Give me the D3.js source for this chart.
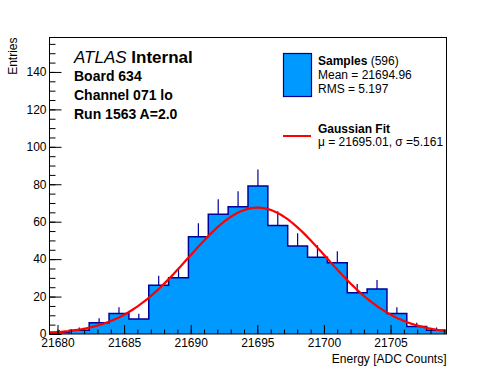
<!DOCTYPE html>
<html lang="en">
<head>
  <meta charset="UTF-8" />
  <title>Board 634 Channel 071 lo</title>
  <script src="https://d3js.org/d3.v7.min.js"></script>
  <style>
    body { margin: 0; background: #fff; }
    svg { display: block; font-family: "Liberation Sans", Arial, Helvetica, sans-serif; }
    .axis text { font-size: 12px; fill: #000; }
    .axis path, .axis line { stroke: #000; stroke-width: 1; }
  </style>
</head>
<body>
<svg id="chart" width="496" height="372"></svg>
<script>
// == DATA ==
const binLow = 21679.4;
const binHigh = 21709.2;
const counts = [1, 2, 6, 11, 8, 26, 30, 52, 64, 68, 79, 58, 47, 41, 38, 22, 24, 11, 4, 2];
const xMajorTicks = [21680, 21685, 21690, 21695, 21700, 21705];
const yMajorTicks = [0, 20, 40, 60, 80, 100, 120, 140];
const yMax = 158.4;

const sampleCount = 596;
const sampleMean = "21694.96";
const sampleRms = "5.197";

// gaussian fit parameters (from the legend), amplitude
const fitMu = 21695.01;
const fitSigma = 5.161;
const fitAmp = 67.5;

const headerLines = ["Board 634", "Channel 071 lo", "Run 1563 A=2.0"];

// == LAYOUT ==
const svg = d3.select("#chart");
const frame = { left: 49.5, right: 446.5, top: 37.5, bottom: 334 };
const fillColor = "#0099ff";
const lineColor = "#000099";

const x = d3.scaleLinear().domain([binLow, binHigh]).range([frame.left, frame.right]);
const y = d3.scaleLinear().domain([0, yMax]).range([frame.bottom, frame.top]);

svg.append("clipPath").attr("id", "frame-clip")
  .append("rect")
  .attr("x", frame.left).attr("y", frame.top)
  .attr("width", frame.right - frame.left).attr("height", frame.bottom - frame.top);

const plot = svg.append("g").attr("clip-path", "url(#frame-clip)");

const binWidth = (binHigh - binLow) / counts.length;
const bins = counts.map((c, i) => ({ x0: binLow + i * binWidth, x1: binLow + (i + 1) * binWidth, n: c }));

// step points for the histogram outline
const steps = [];
bins.forEach(b => { steps.push([b.x0, b.n]); steps.push([b.x1, b.n]); });

plot.append("path")
  .datum(steps)
  .attr("fill", fillColor)
  .attr("d", d3.area().x(d => x(d[0])).y0(y(0)).y1(d => y(d[1])));

plot.append("path")
  .datum([[binLow, 0], ...steps, [binHigh, 0]])
  .attr("fill", "none")
  .attr("stroke", lineColor)
  .attr("stroke-width", 1.5)
  .attr("d", d3.line().x(d => x(d[0])).y(d => y(d[1])));

// error bars (upper half shows above the filled bar)
plot.selectAll(".err")
  .data(bins)
  .join("line")
  .attr("class", "err")
  .attr("x1", d => x((d.x0 + d.x1) / 2))
  .attr("x2", d => x((d.x0 + d.x1) / 2))
  .attr("y1", d => y(d.n))
  .attr("y2", d => y(d.n + Math.sqrt(d.n)))
  .attr("stroke", lineColor)
  .attr("stroke-width", 1.2);

// fit curve
const gauss = v => fitAmp * Math.exp(-0.5 * Math.pow((v - fitMu) / fitSigma, 2));
const curveXs = d3.range(200).map(i => binLow + (binHigh - binLow) * i / 199);
plot.append("path")
  .datum(curveXs)
  .attr("fill", "none")
  .attr("stroke", "#ff0000")
  .attr("stroke-width", 2.2)
  .attr("d", d3.line().x(d => x(d)).y(d => y(gauss(d))));

// == AXES ==
const xMinor = d3.range(21680, 21710, 1);
const yMinor = d3.range(0, yMax, 5);

svg.append("g").attr("class", "axis")
  .attr("transform", `translate(0,${frame.bottom})`)
  .call(d3.axisBottom(x).tickValues(xMinor).tickSize(-4.5).tickFormat(""))
  .call(g => g.select(".domain").remove());

svg.append("g").attr("class", "axis")
  .attr("transform", `translate(0,${frame.bottom})`)
  .call(d3.axisBottom(x).tickValues(xMajorTicks).tickSize(-9).tickPadding(4).tickFormat(d3.format("d")))
  .call(g => g.select(".domain").remove());

svg.append("g").attr("class", "axis")
  .attr("transform", `translate(${frame.left},0)`)
  .call(d3.axisLeft(y).tickValues(yMinor).tickSize(-6).tickFormat(""))
  .call(g => g.select(".domain").remove());

svg.append("g").attr("class", "axis")
  .attr("transform", `translate(${frame.left},0)`)
  .call(d3.axisLeft(y).tickValues(yMajorTicks).tickSize(-12).tickPadding(3).tickFormat(d3.format("d")))
  .call(g => g.select(".domain").remove());

svg.append("rect")
  .attr("x", frame.left).attr("y", frame.top)
  .attr("width", frame.right - frame.left).attr("height", frame.bottom - frame.top)
  .attr("fill", "none").attr("stroke", "#000").attr("stroke-width", 1);

svg.append("text")
  .attr("transform", `translate(17,${frame.top}) rotate(-90)`)
  .attr("text-anchor", "end")
  .attr("font-size", 12)
  .text("Entries");

svg.append("text")
  .attr("x", frame.right).attr("y", 363)
  .attr("text-anchor", "end")
  .attr("font-size", 12)
  .text("Energy [ADC Counts]");

// == LABELS ==
const atlas = svg.append("text").attr("x", 74).attr("y", 62.7).attr("font-size", 17);
atlas.append("tspan").attr("font-style", "italic").text("ATLAS");
atlas.append("tspan").attr("font-weight", "bold").text(" Internal");

svg.selectAll(".hdr")
  .data(headerLines)
  .join("text")
  .attr("class", "hdr")
  .attr("x", 74)
  .attr("y", (d, i) => 81 + i * 18.9)
  .attr("font-size", 14)
  .attr("font-weight", "bold")
  .text(d => d);

// == LEGEND ==
const legend = svg.append("g");
legend.append("rect")
  .attr("x", 283.5).attr("y", 53.5).attr("width", 28).attr("height", 43)
  .attr("fill", fillColor).attr("stroke", lineColor).attr("stroke-width", 1.2);

const sTitle = legend.append("text").attr("x", 318).attr("y", 65).attr("font-size", 12);
sTitle.append("tspan").attr("font-weight", "bold").text("Samples");
sTitle.append("tspan").text(` (${sampleCount})`);
legend.append("text").attr("x", 318).attr("y", 79.3).attr("font-size", 12).text(`Mean = ${sampleMean}`);
legend.append("text").attr("x", 318).attr("y", 93.3).attr("font-size", 12).text(`RMS = ${sampleRms}`);

legend.append("line")
  .attr("x1", 283).attr("x2", 311).attr("y1", 136).attr("y2", 136)
  .attr("stroke", "#ff0000").attr("stroke-width", 2);
legend.append("text").attr("x", 318).attr("y", 132.7).attr("font-size", 12)
  .attr("font-weight", "bold").text("Gaussian Fit");
legend.append("text").attr("x", 318).attr("y", 146).attr("font-size", 12)
  .text(`\u03bc = ${fitMu.toFixed(2)}, \u03c3 =${fitSigma.toFixed(3)}`);
</script>
</body>
</html>
